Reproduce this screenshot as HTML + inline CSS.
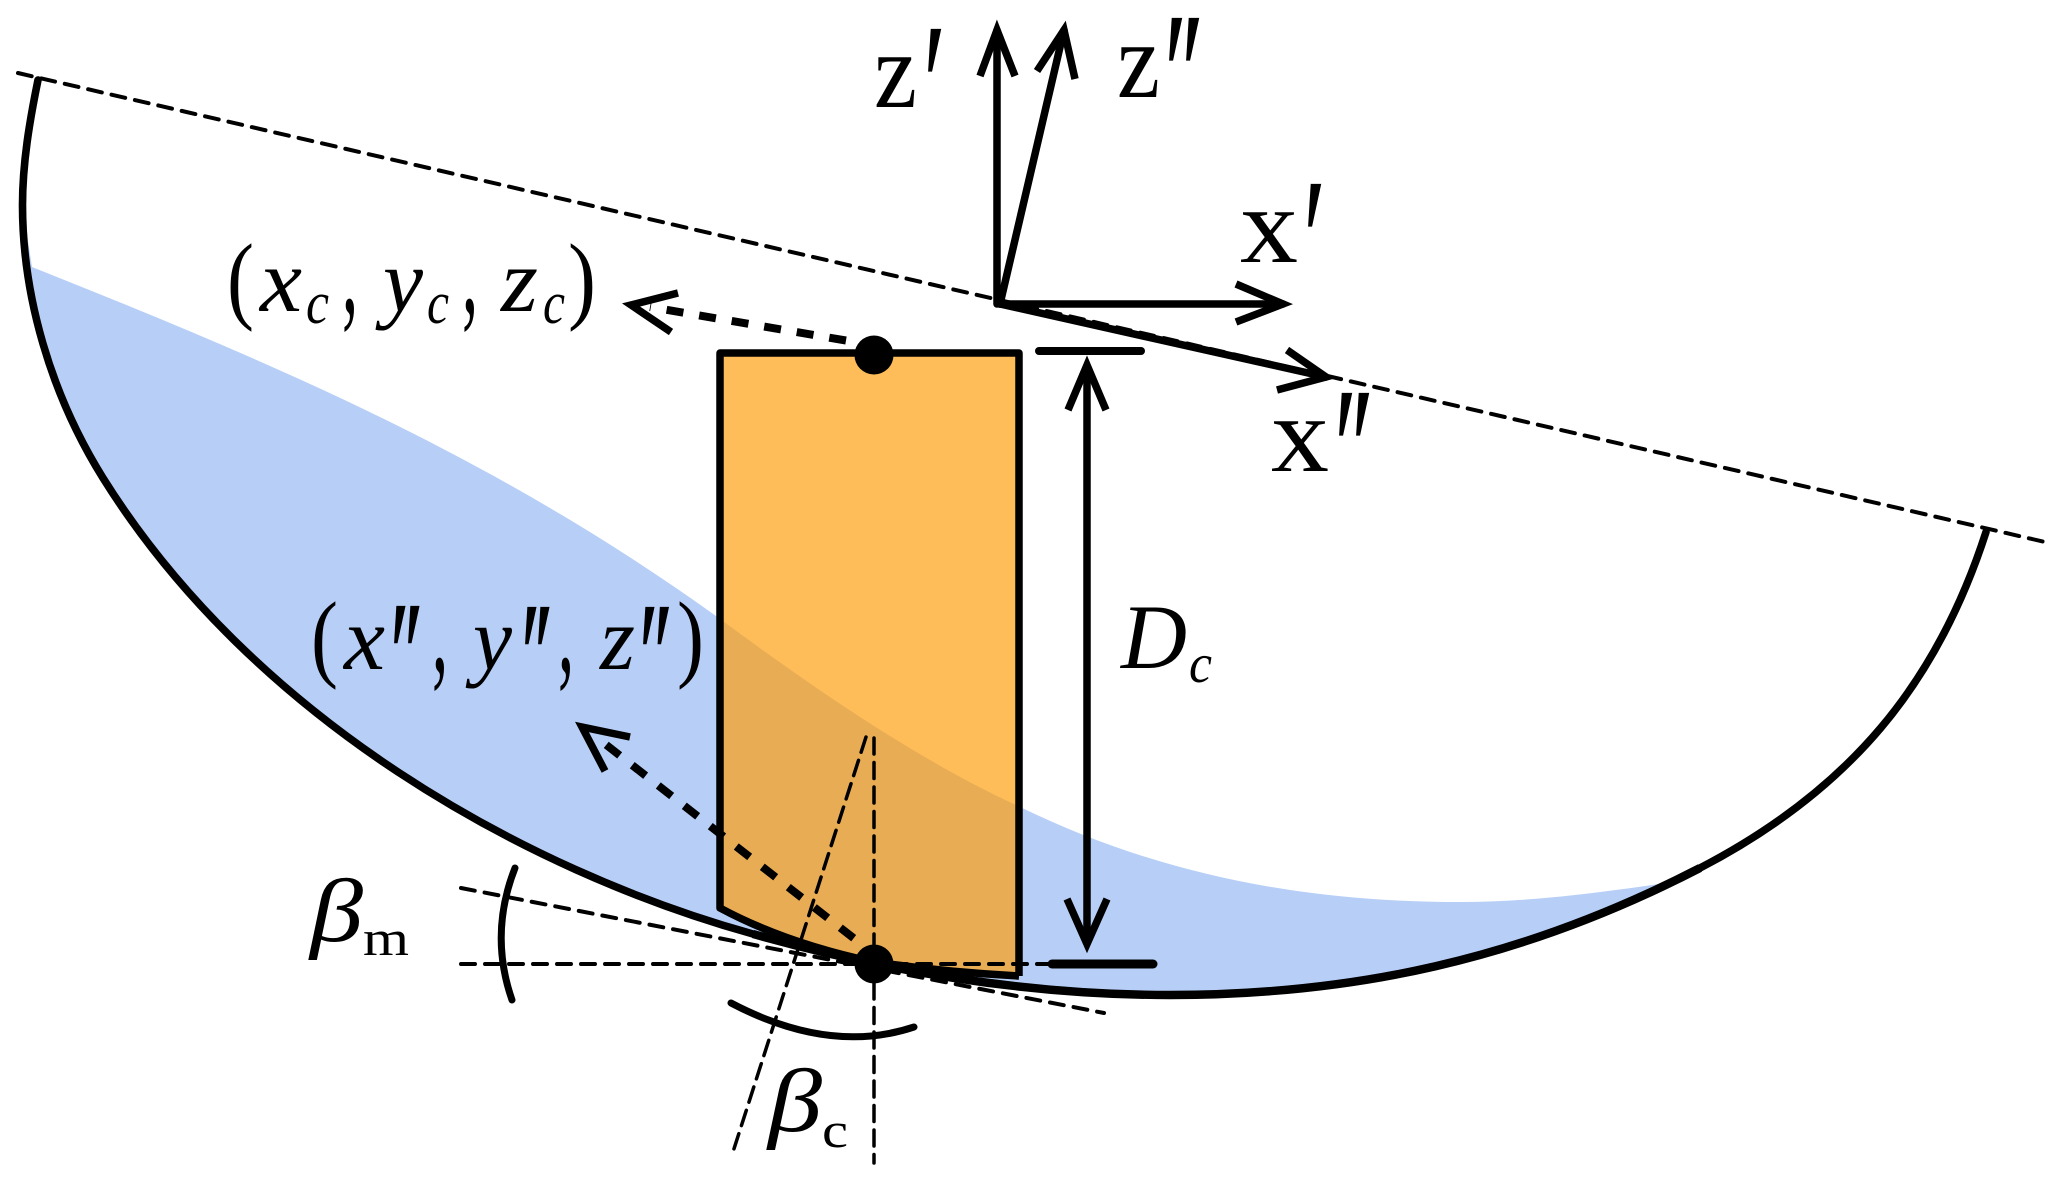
<!DOCTYPE html>
<html>
<head>
<meta charset="utf-8">
<style>
html,body{margin:0;padding:0;background:#fff;width:2067px;height:1181px;overflow:hidden}
svg{display:block}
text{font-family:"Liberation Serif",serif;fill:#000}
.i{font-style:italic}
</style>
</head>
<body>
<svg width="2067" height="1181" viewBox="0 0 2067 1181" xmlns="http://www.w3.org/2000/svg">
<defs>
<clipPath id="rc"><path d="M720 908L720 353L1019 353L1019 976Q945 972 874 962Q785 943 720 908Z"/></clipPath>
<path id="water" d="M32 267C260 358 488 452 716 616C816 690 918 760 1018 806C1165 878 1313 902 1460 902C1531 902 1601 892.6 1672 882L1700 868C1520 961 1350 995 1170 995C1030 995 892 973 753 934C523 870 253 718 103 478C50 393 22.5 295 22.5 205Z"/>
</defs>

<use href="#water" fill="#b7cff7"/>
<path d="M720 908L720 353L1019 353L1019 976Q945 972 874 962Q785 943 720 908Z" fill="#febd58"/>
<use href="#water" fill="#e8ac54" clip-path="url(#rc)"/>

<!-- thin dashed -->
<g fill="none" stroke="#000" stroke-width="4" stroke-dasharray="14 10" stroke-linecap="round">
<path d="M18 73L2045 542"/>
<path d="M461 888L1104 1013"/>
<path d="M461 964L1050 964"/>
<path d="M866 737L732 1155"  stroke-width="3.5" stroke-dasharray="16 8.5"/>
<path d="M874 738L874 1163" stroke-width="3.5" stroke-dasharray="16 8.5"/>
</g>

<!-- crate outline -->
<path d="M1019 976L1019 353L720 353L720 908Q785 943 874 962Q945 972 1019 976" fill="none" stroke="#000" stroke-width="7.5" stroke-linejoin="round"/>

<!-- bowl -->
<path d="M38 80C29.6 121 22.5 163 22.5 205C22.5 295 50 393 103 478C253 718 523 870 753 934C892 973 1030 995 1170 995C1350 995 1520 961 1700 868C1850 790 1937 684 1986 532" fill="none" stroke="#000" stroke-width="7.6" stroke-linecap="round"/>
<path d="M753 934C892 973 1030 995 1170 995C1350 995 1520 961 1700 868" fill="none" stroke="#000" stroke-width="8.4"/>

<!-- axes -->
<g fill="none" stroke="#000" stroke-width="7.5" stroke-linejoin="miter" stroke-miterlimit="10">
<path d="M997 304L997 30" stroke-linecap="round"/>
<path d="M980 76L997 30L1015 76"/>
<path d="M1000 304L1064 30" stroke-linecap="round"/>
<path d="M1037 71L1064 30L1075 79"/>
<path d="M999 304L1283 304" stroke-linecap="round"/>
<path d="M1236 284L1283 304L1236 322"/>
<path d="M1000 304L1326 377" stroke-linecap="round"/>
<path d="M1287 350L1326 377L1277 390"/>
<!-- dimension -->
<path d="M1087 365L1087 944"/>
<path d="M1068 410L1087 365L1106 410"/>
<path d="M1067 899L1087 944L1107 899"/>
<!-- dashed arrowheads -->
<path d="M678 293L631 305L671 332"/>
<path d="M630 737L582 727L605 771"/>
</g>
<path d="M1039 351L1141 351" stroke="#000" stroke-width="8" stroke-linecap="round"/>
<path d="M1052 964L1153 964" stroke="#000" stroke-width="9" stroke-linecap="round"/>

<!-- thick dashes -->
<path d="M846 340.5L650 307" fill="none" stroke="#000" stroke-width="8" stroke-dasharray="17 16"/>
<path d="M853.7 938.2L600 740" fill="none" stroke="#000" stroke-width="8" stroke-dasharray="17 16"/>

<!-- arcs -->
<path d="M515 868Q489 934 512 1000" fill="none" stroke="#000" stroke-width="7" stroke-linecap="round"/>
<path d="M731 1003Q830 1055 914 1027" fill="none" stroke="#000" stroke-width="7" stroke-linecap="round"/>

<!-- dots -->
<circle cx="874" cy="355" r="19.5" fill="#000"/>
<circle cx="874" cy="964" r="19.5" fill="#000"/>

<!-- labels -->
<text x="874" y="107" font-size="108" textLength="43" lengthAdjust="spacingAndGlyphs">z</text>
<text x="1117" y="97" font-size="108" textLength="43" lengthAdjust="spacingAndGlyphs">z</text>
<text x="1240" y="262" font-size="108" textLength="58" lengthAdjust="spacingAndGlyphs">x</text>
<text x="1271" y="471" font-size="108" textLength="58" lengthAdjust="spacingAndGlyphs">x</text>
<g font-size="182" class="i">
<text transform="translate(916,148) scale(.6,1)">′</text>
<text transform="translate(1157,137) scale(.6,1)">′</text>
<text transform="translate(1174,137) scale(.6,1)">′</text>
<text transform="translate(1296,303) scale(.6,1)">′</text>
<text transform="translate(1327,512) scale(.6,1)">′</text>
<text transform="translate(1344,512) scale(.6,1)">′</text>
</g>

<!-- (x_c, y_c, z_c) -->
<text x="227" y="311" font-size="98" textLength="27" lengthAdjust="spacingAndGlyphs">(</text>
<text class="i" x="260" y="311" font-size="90" textLength="42" lengthAdjust="spacingAndGlyphs">x</text>
<text class="i" x="306" y="323" font-size="60" textLength="23" lengthAdjust="spacingAndGlyphs">c</text>
<text x="342" y="312" font-size="130" textLength="16" lengthAdjust="spacingAndGlyphs">,</text>
<text class="i" x="383" y="311" font-size="90" textLength="40" lengthAdjust="spacingAndGlyphs">y</text>
<text class="i" x="427" y="323" font-size="60" textLength="22" lengthAdjust="spacingAndGlyphs">c</text>
<text x="462" y="312" font-size="130" textLength="16" lengthAdjust="spacingAndGlyphs">,</text>
<text class="i" x="501" y="311" font-size="90" textLength="37" lengthAdjust="spacingAndGlyphs">z</text>
<text class="i" x="543" y="323" font-size="60" textLength="22" lengthAdjust="spacingAndGlyphs">c</text>
<text x="568" y="311" font-size="98" textLength="28" lengthAdjust="spacingAndGlyphs">)</text>

<!-- (x'', y'', z'') -->
<text x="311" y="669" font-size="98" textLength="27" lengthAdjust="spacingAndGlyphs">(</text>
<text class="i" x="344" y="669" font-size="90" textLength="41" lengthAdjust="spacingAndGlyphs">x</text>
<g font-size="159" class="i">
<text transform="translate(383.5,710) scale(.6,1)">′</text>
<text transform="translate(397.5,710) scale(.6,1)">′</text>
<text transform="translate(514.5,711) scale(.6,1)">′</text>
<text transform="translate(527.5,711) scale(.6,1)">′</text>
<text transform="translate(632.5,711) scale(.6,1)">′</text>
<text transform="translate(647,711) scale(.6,1)">′</text>
</g>
<text x="432" y="671" font-size="130" textLength="16" lengthAdjust="spacingAndGlyphs">,</text>
<text class="i" x="473" y="669" font-size="90" textLength="39" lengthAdjust="spacingAndGlyphs">y</text>
<text x="558" y="671" font-size="130" textLength="16" lengthAdjust="spacingAndGlyphs">,</text>
<text class="i" x="600" y="669" font-size="90" textLength="35" lengthAdjust="spacingAndGlyphs">z</text>
<text x="677" y="669" font-size="98" textLength="27" lengthAdjust="spacingAndGlyphs">)</text>

<!-- D_c -->
<text class="i" x="1121" y="668" font-size="92" textLength="66" lengthAdjust="spacingAndGlyphs">D</text>
<text class="i" x="1189" y="682" font-size="55" textLength="23" lengthAdjust="spacingAndGlyphs">c</text>

<!-- betas -->
<text class="i" x="310" y="941" font-size="90" textLength="53" lengthAdjust="spacingAndGlyphs">β</text>
<text x="363" y="955" font-size="50" textLength="46" lengthAdjust="spacingAndGlyphs">m</text>
<text class="i" x="768" y="1131" font-size="90" textLength="54" lengthAdjust="spacingAndGlyphs">β</text>
<text x="822" y="1147" font-size="50" textLength="26" lengthAdjust="spacingAndGlyphs">c</text>
</svg>
</body>
</html>
